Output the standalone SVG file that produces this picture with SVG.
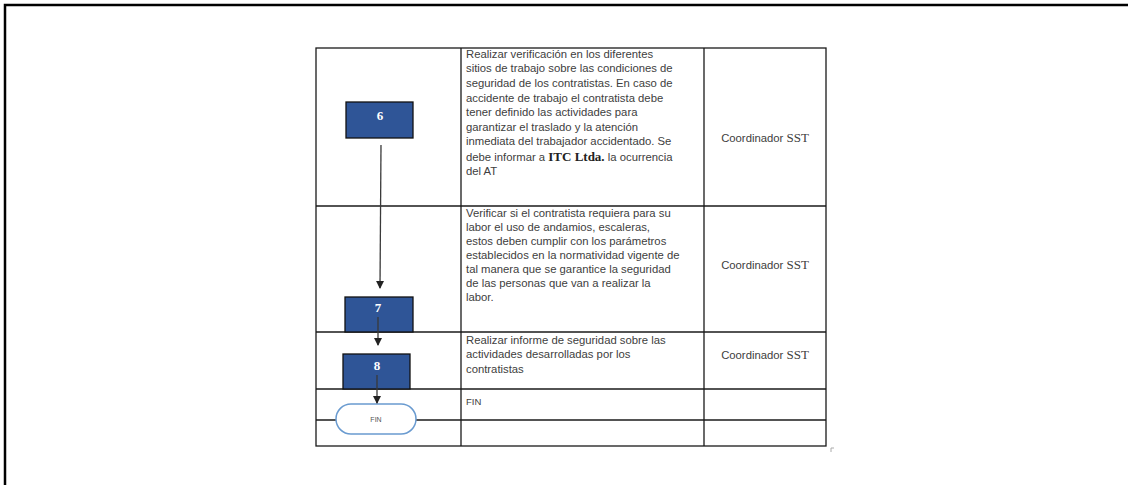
<svg xmlns="http://www.w3.org/2000/svg" width="1129" height="485" viewBox="0 0 1129 485">
<style>
.grid{stroke:#1a1a1a;stroke-width:1.3;fill:none}
.frame{stroke:#000;stroke-width:2.5;fill:none}
.t{font-family:"Liberation Sans",Arial,sans-serif;font-size:11.3px;fill:#404040}
.s{font-family:"Liberation Serif","Times New Roman",serif}
.box{fill:#2f5597;stroke:#111;stroke-width:1.3}
.num{font-family:"Liberation Serif","Times New Roman",serif;font-weight:bold;font-size:13px;fill:#fff;text-anchor:middle}
.con{stroke:#3a3a3a;stroke-width:1.3;fill:none}
</style>
<defs>
<marker id="ah" markerWidth="8" markerHeight="8" refX="7" refY="4" orient="auto" markerUnits="userSpaceOnUse">
<path d="M0,0 L8,4 L0,8 Z" fill="#222"/>
</marker>
</defs>
<rect width="1129" height="485" fill="#fff"/>
<path class="frame" d="M5,485 V5 H1128"/>
<g id="table">
<rect class="grid" x="316" y="48" width="510" height="398"/>
<line class="grid" x1="461" y1="48" x2="461" y2="446"/>
<line class="grid" x1="704" y1="48" x2="704" y2="446"/>
<line class="grid" x1="316" y1="206" x2="826" y2="206"/>
<line class="grid" x1="316" y1="332" x2="826" y2="332"/>
<line class="grid" x1="316" y1="389" x2="826" y2="389"/>
<line class="grid" x1="316" y1="420" x2="826" y2="420"/>
<path d="M831,452 V448 H834" stroke="#aaa" stroke-width="1" fill="none"/>
</g>
<g id="text-row1" class="t">
<text x="466" y="58">Realizar verificación en los diferentes</text>
<text x="466" y="72">sitios de trabajo sobre las condiciones de</text>
<text x="466" y="87">seguridad de los contratistas. En caso de</text>
<text x="466" y="102">accidente de trabajo el contratista debe</text>
<text x="466" y="116">tener definido las actividades para</text>
<text x="466" y="131">garantizar el traslado y la atención</text>
<text x="466" y="145">inmediata del trabajador accidentado. Se</text>
<text x="466" y="161">debe informar a <tspan class="s" font-weight="bold" font-size="13px" fill="#222">ITC Ltda.</tspan> la ocurrencia</text>
<text x="466" y="175">del AT</text>
<text x="765" y="142" text-anchor="middle">Coordinador <tspan class="s" font-size="13px">SST</tspan></text>
</g>
<g id="text-row2" class="t">
<text x="466" y="217">Verificar si el contratista requiera para su</text>
<text x="466" y="231">labor el uso de andamios, escaleras,</text>
<text x="466" y="245">estos deben cumplir con los parámetros</text>
<text x="466" y="259">establecidos en la normatividad vigente de</text>
<text x="466" y="273">tal manera que se garantice la seguridad</text>
<text x="466" y="287">de las personas que van a realizar la</text>
<text x="466" y="301">labor.</text>
<text x="765" y="269" text-anchor="middle">Coordinador <tspan class="s" font-size="13px">SST</tspan></text>
</g>
<g id="text-row3" class="t">
<text x="466" y="344">Realizar informe de seguridad sobre las</text>
<text x="466" y="358">actividades desarrolladas por los</text>
<text x="466" y="373">contratistas</text>
<text x="765" y="359" text-anchor="middle">Coordinador <tspan class="s" font-size="13px">SST</tspan></text>
</g>
<g id="text-row4" class="t">
<text x="466" y="405" font-size="9.5px">FIN</text>
</g>
<g id="node-6">
<rect class="box" x="346" y="102" width="67" height="36"/>
<text class="num" x="380" y="120">6</text>
</g>
<g id="node-7">
<rect class="box" x="345" y="297" width="68" height="35"/>
<text class="num" x="378" y="312">7</text>
</g>
<g id="node-8">
<rect class="box" x="343" y="354" width="67" height="35"/>
<text class="num" x="377" y="370">8</text>
</g>
<g id="node-fin">
<rect x="336" y="404" width="80" height="30" rx="15" ry="15" fill="#fff" stroke="#6a9bd0" stroke-width="1.5"/>
<text x="376" y="422" text-anchor="middle" font-family="Liberation Sans,Arial,sans-serif" font-size="7px" fill="#555">FIN</text>
</g>
<g id="connectors">
<line class="con" x1="381" y1="145" x2="380" y2="288" marker-end="url(#ah)"/>
<line class="con" x1="378" y1="317" x2="378" y2="345" marker-end="url(#ah)"/>
<line class="con" x1="377" y1="375" x2="377" y2="403" marker-end="url(#ah)"/>
</g>
</svg>
